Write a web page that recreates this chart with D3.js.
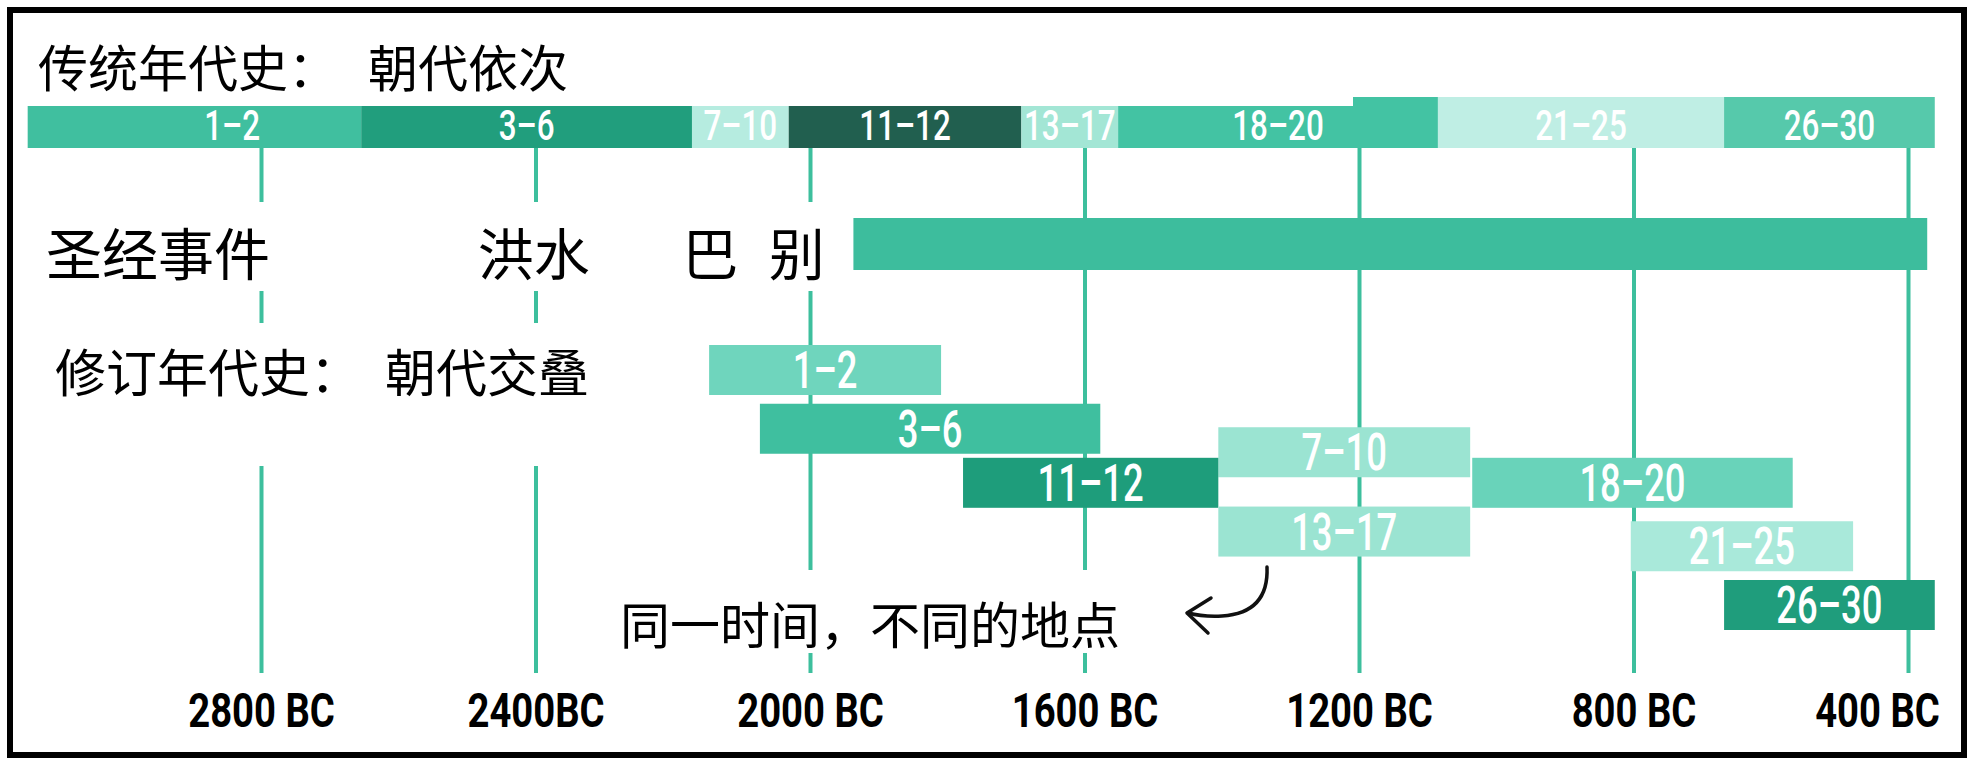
<!DOCTYPE html>
<html>
<head>
<meta charset="utf-8">
<script src="https://cdn.jsdelivr.net/npm/d3@7"></script>
<style>
  body { margin: 0; background: #fff; }
  .cjk { font-family: "Noto Sans CJK SC", sans-serif; fill: #000; }
  .barLabel { font-family: Roboto, sans-serif; font-weight: 500; fill: #fff; }
  .tick text { font-family: Roboto, sans-serif; font-weight: bold; fill: #000; }
</style>
</head>
<body>
<div id="chart"></div>
<script>
// dynasty groups (same order for both chronologies)
var dynasties = ["1–2", "3–6", "7–10", "11–12", "13–17", "18–20", "21–25", "26–30"];

// traditional chronology: start / end in years BC
var tradStart = [3140, 2654, 2172, 2031, 1692, 1551, 1085, 668];
var tradEnd   = [2654, 2172, 2031, 1692, 1551, 1085, 668, 361];
var tradColor = ["#40bf9f", "#219e7d", "#b6ece0", "#215f4f", "#a3e6d5", "#43c3a3", "#bfeee4", "#56c9ab"];

// revised chronology: start / end in years BC, and stacking row
var revStart = [2147, 2073, 1405, 1777, 1405, 1035, 804, 668];
var revEnd   = [1809, 1577, 1038, 1405, 1038, 568, 480, 361];
var revRow   = [0, 1, 1.4, 1.92, 2.75, 1.92, 3, 4];
var revColor = ["#6fd5bd", "#3fbf9f", "#9be4d2", "#1e9d7b", "#9be4d2", "#69d3ba", "#a9e9da", "#1f9d7c"];

// biblical events bar
var bibleStart = 1937;
var bibleEnd = 372;
var eventNames = ["洪水", "巴", "别"];
var eventYears = [2484, 2186, 2060];

// axis
var tickYears = [2800, 2400, 2000, 1600, 1200, 800, 400];
var tickText = ["2800 BC", "2400BC", "2000 BC", "1600 BC", "1200 BC", "800 BC", "400 BC"];

var svgWidth = 1975;
var svgHeight = 759;

var svg = d3.select("#chart")
  .append("svg")
  .attr("width", svgWidth)
  .attr("height", svgHeight);

var x = d3.scaleLinear().domain([2800, 400]).range([261, 1908]);
var yRow = d3.scaleLinear().domain([0, 4]).range([345, 580]);

var tradTop = 97, tradH = 51;
var bibleTop = 218, bibleH = 52;
var revH = 50;
var gridTop = 148, axisY = 673;

// gridlines + tick labels
var axis = d3.axisBottom(x)
  .tickValues(tickYears)
  .tickSizeInner(-(axisY - gridTop))
  .tickSizeOuter(0)
  .tickFormat(function(d, i) { return tickText[i]; });

var axisG = svg.append("g")
  .attr("transform", `translate(0, ${axisY})`)
  .call(axis);
axisG.select(".domain").remove();
axisG.selectAll(".tick line")
  .attr("stroke", "#3dbf9d")
  .attr("stroke-width", 4);
axisG.selectAll(".tick text")
  .attr("y", 0)
  .attr("dy", 0)
  .attr("font-size", 49)
  .attr("text-anchor", "middle")
  .attr("transform", function(d, i) {
    var shift = i === tickYears.length - 1 ? -31 : 0;
    return `translate(${shift}, 54) scale(0.78, 1)`;
  });

// traditional chronology band
var trad = dynasties.map(function(d, i) {
  return { label: d, start: tradStart[i], end: tradEnd[i], color: tradColor[i] };
});
svg.append("g").selectAll("rect")
  .data(trad)
  .enter()
  .append("rect")
  .attr("x", d => x(d.start))
  .attr("y", tradTop)
  .attr("width", d => x(d.end) - x(d.start))
  .attr("height", tradH)
  .attr("fill", d => d.color);
// first label sits over the part of the segment after 3030 BC
svg.append("g").selectAll("text")
  .data(trad)
  .enter()
  .append("text")
  .attr("class", "barLabel")
  .attr("font-size", 43)
  .attr("text-anchor", "middle")
  .attr("transform", d => `translate(${(x(Math.min(d.start, 3030)) + x(d.end)) / 2}, ${tradTop + tradH / 2 + 17}) scale(0.73, 1)`)
  .text(d => d.label);

// biblical events bar
svg.append("rect")
  .attr("x", x(bibleStart))
  .attr("y", bibleTop)
  .attr("width", x(bibleEnd) - x(bibleStart))
  .attr("height", bibleH)
  .attr("fill", "#3dbd9d");

// revised chronology bars
var rev = dynasties.map(function(d, i) {
  return { label: d, start: revStart[i], end: revEnd[i], row: revRow[i], color: revColor[i] };
});
svg.append("g").selectAll("rect")
  .data(rev)
  .enter()
  .append("rect")
  .attr("x", d => x(d.start))
  .attr("y", d => yRow(d.row))
  .attr("width", d => x(d.end) - x(d.start))
  .attr("height", revH)
  .attr("fill", d => d.color);
svg.append("g").selectAll("text")
  .data(rev)
  .enter()
  .append("text")
  .attr("class", "barLabel")
  .attr("font-size", 52)
  .attr("text-anchor", "middle")
  .attr("transform", d => `translate(${(x(d.start) + x(d.end)) / 2}, ${yRow(d.row) + revH / 2 + 18}) scale(0.7, 1)`)
  .text(d => d.label);

// white label boxes pasted over the chart
function whiteBox(x0, y0, x1, y1) {
  svg.append("rect")
    .attr("x", x0).attr("y", y0)
    .attr("width", x1 - x0).attr("height", y1 - y0)
    .attr("fill", "#fff");
}
whiteBox(13, 13, 1353, 106);
whiteBox(13, 202, x(bibleStart), 291);
whiteBox(32, 323, 690, 466);
whiteBox(605, 570, 1150, 653);

function cjk(txt, px, py, size) {
  svg.append("text")
    .attr("class", "cjk")
    .attr("x", px)
    .attr("y", py)
    .attr("font-size", size)
    .attr("dominant-baseline", "central")
    .text(txt);
}
cjk("传统年代史：", 38, 65, 50);
cjk("朝代依次", 368, 65, 50);
cjk("圣经事件", 46, 250, 56);
eventNames.forEach(function(n, i) { cjk(n, x(eventYears[i]), 250, 56); });
cjk("修订年代史：", 55, 370, 51);
cjk("朝代交叠", 385, 370, 51);
cjk("同一时间，不同的地点", 620, 622, 50);

// curved arrow
svg.append("path")
  .attr("d", "M1267,567 Q1269,613 1222,616 Q1203,617 1188,613")
  .attr("fill", "none")
  .attr("stroke", "#111")
  .attr("stroke-width", 3.5)
  .attr("stroke-linecap", "round");
svg.append("path")
  .attr("d", "M1211,598 L1187,613 L1208,633")
  .attr("fill", "none")
  .attr("stroke", "#111")
  .attr("stroke-width", 3.5)
  .attr("stroke-linecap", "round")
  .attr("stroke-linejoin", "round");

// frame
svg.append("rect")
  .attr("x", 10).attr("y", 10)
  .attr("width", 1954).attr("height", 745)
  .attr("fill", "none")
  .attr("stroke", "#000")
  .attr("stroke-width", 6);
</script>
</body>
</html>
